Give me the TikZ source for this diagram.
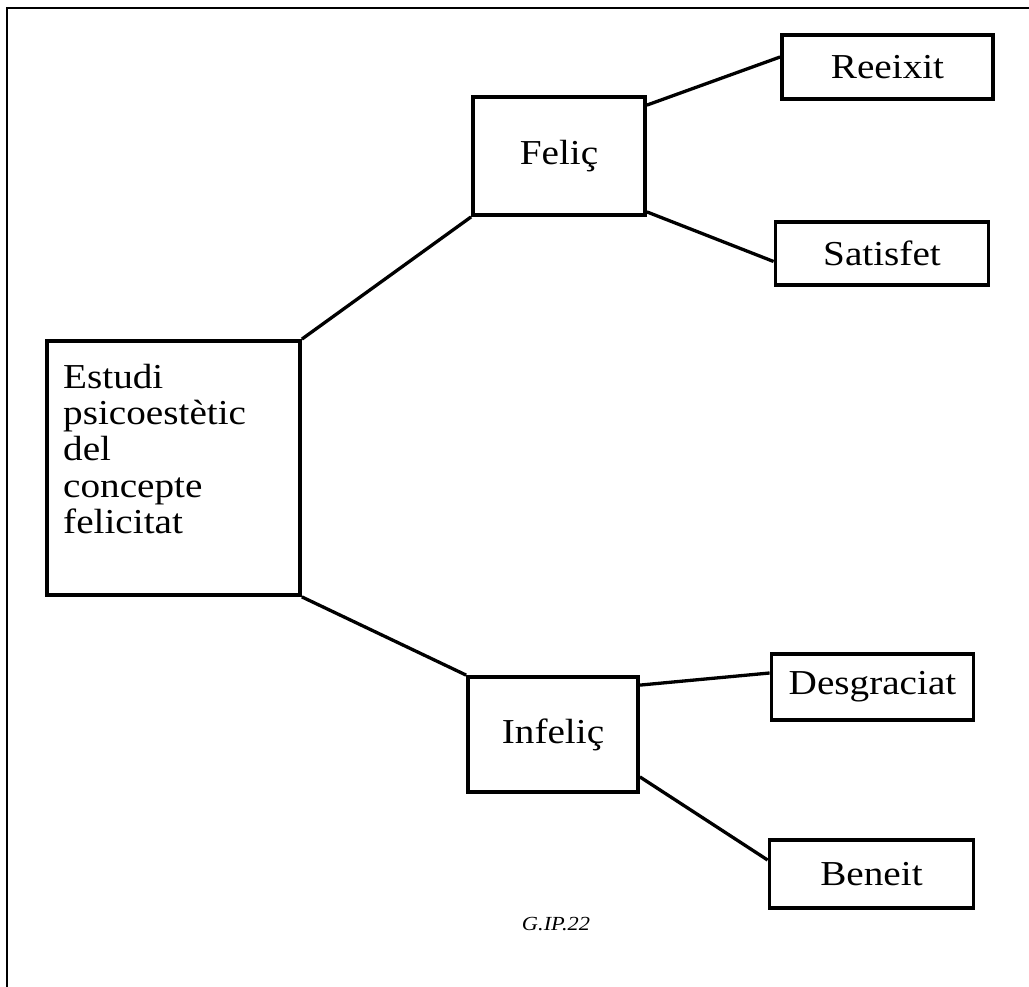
\documentclass[tikz,border=0pt]{standalone}
\usepackage{fontspec}
\setmainfont{Liberation Serif}[FakeStretch=1.12]
\begin{document}
\begin{tikzpicture}[x=1pt,y=-1pt,
  box/.style={draw, line width=3.8pt, inner sep=0pt, font=\fontsize{35}{36}\selectfont},
  link/.style={line width=3.3pt},
  frame/.style={line width=2.5pt}]
\useasboundingbox (0,0) rectangle (1029,987);
\draw[frame] (7,987) -- (7,8) -- (1029,8);
% nodes
\node[box, minimum width=253pt, minimum height=254pt] (E) at (173.5,468) {};
\node[anchor=north west, align=left, inner sep=0pt, font=\fontsize{35}{36.2}\selectfont] (Et) at (63,364) {Estudi\\psicoestètic\\del\\concepte\\felicitat};
\node[box, minimum width=172pt, minimum height=118pt] (F) at (559,156) {Feliç};
\node[box, minimum width=211pt, minimum height=64pt] (R) at (887.5,67) {Reeixit};
\node[box, minimum width=213pt, minimum height=63pt] (S) at (882,253.5) {Satisfet};
\node[box, minimum width=170pt, minimum height=115pt] (I) at (553,734.5) {Infeliç};
\node[box, minimum width=202pt, minimum height=66pt] (D) at (872.5,687) {Desgraciat};
\node[box, minimum width=204pt, minimum height=68pt] (B) at (871.5,874) {Beneit};
\node[font=\itshape\fontsize{20}{22}\selectfont] (G) at (556,924) {G.IP.22};
% connectors
\draw[link] (E.north east) -- (F.south west);
\draw[link] (E.south east) -- (I.north west);
\draw[link] ([yshift=-10pt]F.north east) -- ([yshift=10pt]R.west);
\draw[link] ([yshift=5pt]F.south east) -- ([yshift=-8pt]S.west);
\draw[link] ([yshift=-10pt]I.north east) -- ([yshift=14pt]D.west);
\draw[link] ([yshift=17pt]I.south east) -- ([yshift=14pt]B.west);
\end{tikzpicture}
\end{document}
